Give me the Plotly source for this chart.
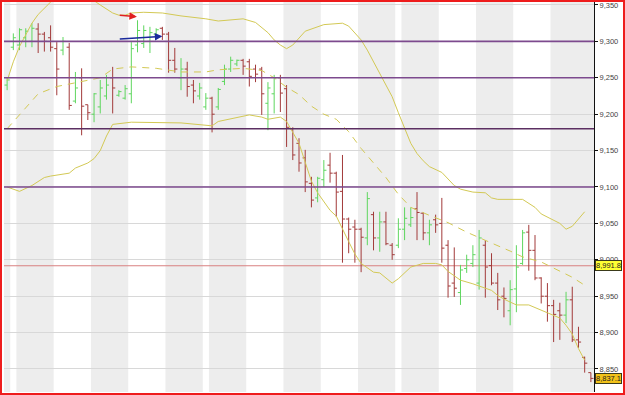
import plotly.graph_objects as go

# ---------------- data ----------------
bar_index = list(range(95))
opens = [9240, 9292, 9295, 9305, 9300, 9317, 9310, 9305, 9290, 9288,
         9292, 9218, 9250, 9213, 9200, 9210, 9225, 9250, 9226, 9222,
         9228, 9295, 9297, 9300, 9310, 9318, 9310, 9274, 9250, 9262,
         9240, 9225, 9210, 9222, 9210, 9245, 9262, 9269, 9274, 9272,
         9262, 9262, 9215, 9228, 9250, 9235, 9180, 9160, 9140, 9105,
         9085, 9110, 9130, 9119, 9094, 9056, 9045, 9042, 9030, 9062,
         9030, 9052, 9020, 9020, 9042, 9048, 9070, 9064, 9037, 9055,
         9050, 9020, 8968, 8955, 8988, 8995, 8968, 9020, 8992, 8968,
         8950, 8930, 8960, 8995, 9038, 9013, 8975, 8950, 8937, 8930,
         8924, 8945, 8890, 8866, 8845]
highs = [9251, 9311, 9318, 9318, 9325, 9325, 9313, 9322, 9299, 9306,
         9298, 9258, 9263, 9213, 9229, 9247, 9254, 9265, 9233, 9240,
         9299, 9329, 9322, 9320, 9318, 9320, 9313, 9291, 9277, 9272,
         9247, 9243, 9229, 9224, 9236, 9268, 9279, 9275, 9276, 9276,
         9268, 9265, 9244, 9254, 9254, 9240, 9182, 9167, 9151, 9114,
         9114, 9137, 9147, 9121, 9144, 9058, 9055, 9044, 9093, 9066,
         9066, 9066, 9023, 9057, 9072, 9072, 9093, 9065, 9055, 9062,
         9085, 9027, 9017, 8993, 9007, 9020, 9041, 9027, 9009, 8982,
         8962, 8972, 9020, 9041, 9048, 9034, 8976, 8968, 8945, 8941,
         8956, 8963, 8908, 8867, 8845]
lows = [9233, 9288, 9288, 9292, 9292, 9284, 9286, 9286, 9226, 9281,
        9206, 9215, 9171, 9192, 9189, 9201, 9220, 9201, 9224, 9220,
        9215, 9285, 9291, 9284, 9307, 9302, 9257, 9257, 9233, 9224,
        9215, 9220, 9206, 9175, 9206, 9240, 9258, 9266, 9254, 9238,
        9244, 9199, 9178, 9201, 9203, 9155, 9137, 9121, 9093, 9072,
        9079, 9100, 9106, 9059, 8996, 9009, 8996, 8983, 9020, 9013,
        9011, 9020, 9000, 9016, 9027, 9045, 9027, 9027, 9020, 9037,
        8996, 8948, 8949, 8938, 8982, 8990, 8959, 8948, 8965, 8931,
        8921, 8910, 8928, 8993, 8985, 8972, 8940, 8915, 8887, 8890,
        8913, 8887, 8879, 8845, 8832]
closes = [9247, 9305, 9316, 9314, 9318, 9310, 9300, 9292, 9262, 9300,
          9212, 9236, 9211, 9202, 9228, 9236, 9240, 9236, 9231, 9235,
          9290, 9315, 9315, 9312, 9316, 9310, 9274, 9262, 9262, 9238,
          9232, 9236, 9222, 9200, 9234, 9262, 9274, 9274, 9266, 9252,
          9255, 9228, 9236, 9250, 9229, 9182, 9144, 9133, 9107, 9082,
          9112, 9123, 9119, 9093, 9056, 9042, 9042, 9031, 9084, 9030,
          9052, 9022, 9007, 9042, 9057, 9058, 9065, 9037, 9048, 9048,
          9016, 8964, 8961, 8986, 9000, 9007, 9030, 8990, 8968, 8945,
          8947, 8959, 8990, 9037, 9013, 8975, 8950, 8937, 8925, 8924,
          8945, 8890, 8887, 8858, 8837.1]

# session lengths (bars per alternating background band)
session_lengths = [1, 1, 6, 6, 6, 6, 6, 1, 6, 6, 6, 6, 6, 1, 6, 6, 6, 6, 7]

# Bollinger bands
upper_x = [0, 1, 2, 3, 4, 5, 6, 7, 8, 10, 12, 14, 15, 16, 17, 18, 19, 20, 22, 25,
           28, 32, 34, 38, 40, 42, 43, 44, 45, 46, 48, 51, 54, 55, 57, 58, 59, 60,
           61, 62, 63, 64, 65, 66, 67, 68, 70, 72, 73, 75, 77, 78, 79, 83, 85, 86,
           88, 89, 90, 91, 92, 93]
upper_y = [9246, 9272, 9293, 9310, 9325, 9337, 9346, 9354, 9360, 9364, 9363, 9356,
           9350, 9345, 9339, 9336, 9336, 9339, 9340, 9339, 9335, 9331, 9328, 9331,
           9326, 9312, 9302, 9295, 9290, 9295, 9314, 9323, 9325, 9321, 9302, 9288,
           9272, 9255, 9240, 9224, 9202, 9180, 9160, 9146, 9136, 9128, 9120, 9102,
           9097, 9093, 9092, 9085, 9083, 9083, 9072, 9063, 9055, 9050, 9042, 9046,
           9056, 9066]
mid_x = [0, 5, 8, 15, 17, 20, 24, 28, 32, 34, 38, 41, 43, 44, 45, 47, 49, 51, 53, 55,
         57, 59, 61, 63, 65, 68, 71, 74, 76, 78, 81, 83, 86, 89, 91, 93]
mid_y = [9180, 9228, 9238, 9250, 9262, 9265, 9263, 9258, 9258, 9261, 9263, 9260,
         9250, 9244, 9237, 9227, 9211, 9200, 9193, 9176, 9153, 9133, 9113, 9090,
         9072, 9061, 9051, 9038, 9030, 9023, 9012, 9004, 8997, 8985, 8976, 8965]
low_x = [0, 2, 4, 6, 7, 10, 11, 13, 14, 15, 16, 17, 20, 26, 28, 33, 34, 39, 41, 42,
         44, 45, 47, 49, 50, 52, 53, 55, 56, 57, 59, 60, 62, 63, 65, 67, 69, 70, 71,
         73, 75, 78, 79, 80, 82, 84, 86, 89, 90, 91, 92, 93]
low_y = [9100, 9094, 9102, 9113, 9115, 9119, 9126, 9133, 9139, 9150, 9170, 9186,
         9189, 9189, 9188, 9184, 9190, 9199, 9196, 9193, 9196, 9190, 9160, 9108,
         9092, 9068, 9060, 9025, 9008, 8995, 8983, 8982, 8968, 8974, 8990, 8995,
         8995, 8993, 8984, 8972, 8967, 8958, 8951, 8946, 8938, 8938, 8931, 8920,
         8910, 8898, 8878, 8862]

level_lines = [9300, 9250, 9180, 9100]
marker_line = 8991.8
price_tags = [8991.8, 8837.1]
tag_texts = ["8,991.8", "8,837.1"]
y_ticks = [8850, 8900, 8950, 9000, 9050, 9100, 9150, 9200, 9250, 9300, 9350]

red_arrow = dict(tail=(17.9, 9336), head=(20.9, 9334))
blue_arrow = dict(tail=(17.9, 9303), head=(25.0, 9307))

# ---------------- styling ----------------
W, H = 625, 395
ML, MR, MT, MB = 4, 31, 2, 3
PW, PH = W - ML - MR, H - MT - MB
Y_RANGE = [8818.4, 9354.1]
BAND_COLOR = "#d3c955"

fig = go.Figure()

fig.add_trace(go.Scatter(x=upper_x, y=upper_y, mode="lines",
                         line=dict(color=BAND_COLOR, width=1), hoverinfo="skip"))
fig.add_trace(go.Scatter(x=low_x, y=low_y, mode="lines",
                         line=dict(color=BAND_COLOR, width=1), hoverinfo="skip"))
fig.add_trace(go.Scatter(x=mid_x, y=mid_y, mode="lines",
                         line=dict(color=BAND_COLOR, width=1, dash="7px,6px"),
                         hoverinfo="skip"))

fig.add_trace(go.Ohlc(x=bar_index, open=opens, high=highs, low=lows, close=closes,
                      increasing=dict(line=dict(color="#5fd65f", width=1)),
                      decreasing=dict(line=dict(color="#a23a3a", width=1)),
                      tickwidth=0.42, hoverinfo="skip"))

shapes = []
start = -0.5
for k, n in enumerate(session_lengths):
    if k % 2 == 0:
        shapes.append(dict(type="rect", xref="x", yref="paper", x0=start, x1=start + n,
                           y0=0, y1=1, fillcolor="#ededed", line=dict(width=0),
                           layer="below"))
    start += n

for lv in level_lines:
    col = "#5c2f62" if lv == 9180 else "#7d4a8e"
    shapes.append(dict(type="line", xref="paper", yref="y", x0=0, x1=1, y0=lv, y1=lv,
                       line=dict(color=col, width=1.6), layer="above"))
shapes.append(dict(type="line", xref="paper", yref="y", x0=0, x1=1,
                   y0=marker_line, y1=marker_line,
                   line=dict(color="#d98080", width=1), layer="between"))

# outer red frame round the whole image
shapes.append(dict(type="rect", xref="paper", yref="paper",
                   x0=(1 - ML) / PW, x1=(W - 1 - ML) / PW,
                   y0=-(MB - 1) / PH - 0.0001, y1=1 + (MT - 1) / PH,
                   line=dict(color="#ee1c1c", width=2), fillcolor="rgba(0,0,0,0)",
                   layer="above"))

annotations = []
tag_colors = ["#ffff33", "#f2c21a"]
for v, t, c in zip(price_tags, tag_texts, tag_colors):
    annotations.append(dict(x=1, xref="paper", xanchor="left", xshift=1,
                            y=v, yref="y", yanchor="middle", text=t, showarrow=False,
                            bgcolor=c, bordercolor="#3a3a1a", borderwidth=1, borderpad=0,
                            font=dict(family="Liberation Sans, Arial", size=7.5,
                                      color="#222")))
for arr, col in [(red_arrow, "#e02020"), (blue_arrow, "#1a2a9c")]:
    annotations.append(dict(x=arr["head"][0], y=arr["head"][1], xref="x", yref="y",
                            ax=arr["tail"][0], ay=arr["tail"][1], axref="x", ayref="y",
                            showarrow=True, arrowhead=2, arrowsize=1, arrowwidth=1.5,
                            arrowcolor=col, text=""))

fig.update_layout(
    width=W, height=H,
    margin=dict(l=ML, r=MR, t=MT, b=MB, pad=0),
    paper_bgcolor="white", plot_bgcolor="white",
    showlegend=False, hovermode=False,
    shapes=shapes, annotations=annotations,
    xaxis=dict(range=[-0.5, 94.5], showgrid=False, zeroline=False, showticklabels=False,
               ticks="", showline=False, rangeslider=dict(visible=False), fixedrange=True),
    yaxis=dict(range=Y_RANGE, side="right", tickvals=y_ticks, tickformat=",d",
               showgrid=True, gridcolor="#d8d8d8", gridwidth=1, zeroline=False,
               showline=True, linecolor="#111", linewidth=1,
               ticks="outside", ticklen=3, tickcolor="#111",
               tickfont=dict(family="Liberation Sans, Arial", size=7.5, color="#444"),
               automargin=False, fixedrange=True),
)

fig.write_html("out.html", config={"displayModeBar": False})
